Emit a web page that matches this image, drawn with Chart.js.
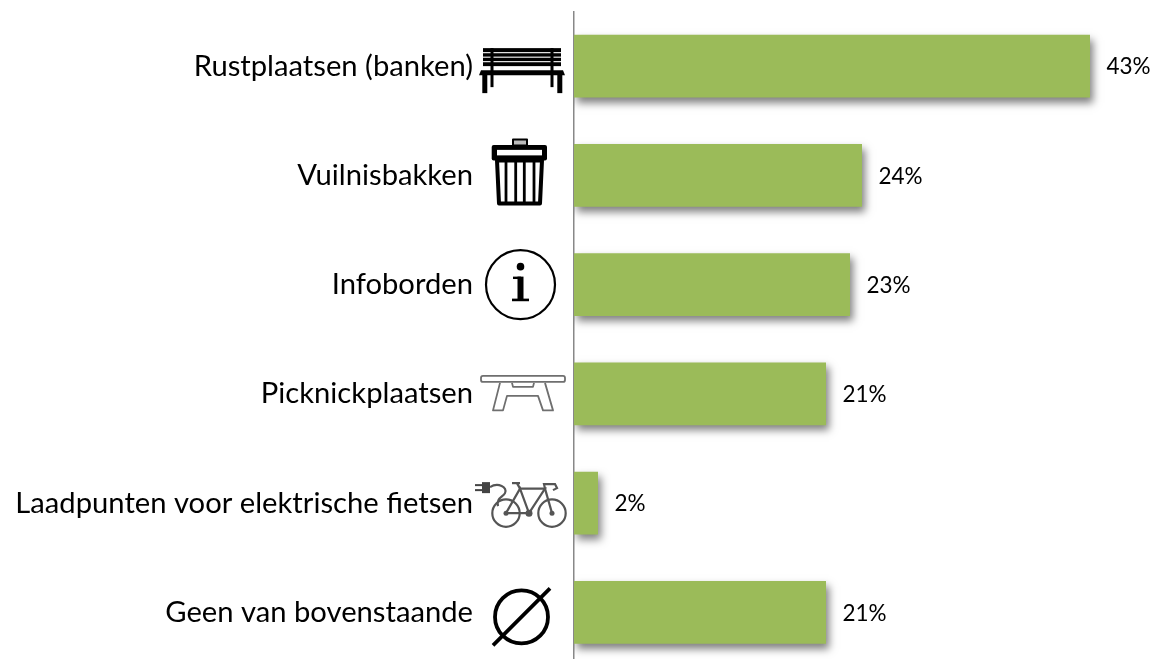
<!DOCTYPE html>
<html><head><meta charset="utf-8">
<style>html,body{margin:0;padding:0;background:#fff;overflow:hidden;width:1157px;height:659px}
#w{width:1157px;height:659px;overflow:hidden;position:relative}</style>
<script src="https://cdn.jsdelivr.net/npm/chart.js@4"></script></head>
<body><div id="w"><canvas id="c" width="1157" height="667"></canvas></div>
<script>
const categories=["Rustplaatsen (banken)","Vuilnisbakken","Infoborden","Picknickplaatsen","Laadpunten voor elektrische fietsen","Geen van bovenstaande"];
const values=[43,24,23,21,2,21];
const valueSuffix="%";
const barColor="#9BBB59";
const FONT="Lato";

function line(c,x1,y1,x2,y2){c.beginPath();c.moveTo(x1,y1);c.lineTo(x2,y2);c.stroke();}
function circ(c,x,y,r,fill){c.beginPath();c.arc(x,y,r,0,Math.PI*2);fill?c.fill():c.stroke();}
function poly(c,pts,close){c.beginPath();pts.forEach((p,i)=>i?c.lineTo(p[0],p[1]):c.moveTo(p[0],p[1]));if(close)c.closePath();c.stroke();}
const icons=[
 c=>{ // bench, origin on the row centre
  c.fillStyle="#000";
  c.fillRect(-40,-18,78,18);
  c.fillStyle="#fff";
  for(const y of [-14,-9.5,-5]) c.fillRect(-40,y,78,1.1);
  c.fillStyle="#000";
  c.fillRect(-32.5,-18,3,39);c.fillRect(27.5,-18,3,39);
  c.beginPath();c.moveTo(-42,4);c.lineTo(40,4);c.lineTo(42,9);c.lineTo(-44,9);c.closePath();c.fill();
  c.fillRect(-40.7,8,5,19);c.fillRect(34.3,8,5,19);
 },
 c=>{ // bin
  c.strokeStyle="#000";c.fillStyle="#000";c.lineJoin="round";
  c.fillStyle="#bbb";c.fillRect(-7,-36,14,6);
  c.lineWidth=2;c.strokeRect(-7,-36,14,6);
  c.fillStyle="#000";c.beginPath();c.roundRect(-28.3,-30.5,55.3,15.5,2);c.fill();
  c.fillStyle="#fff";c.fillRect(-23,-25.5,45,5.5);
  c.lineWidth=4;
  poly(c,[[-23,-15],[-21,28],[20,28],[22,-15]],true);
  c.lineWidth=2.8;
  for(const x of [-14,-4.3,4.3,14]) line(c,x,-14,x,27);
 },
 c=>{ // info
  c.strokeStyle="#000";c.fillStyle="#000";c.lineWidth=2.2;
  circ(c,0.5,0,34.5);
  circ(c,0.5,-18,3.8,true);
  c.fillRect(-2.5,-8,6,24);c.fillRect(-7,-8,8,2.4);c.fillRect(-8,14,17,2.6);
 },
 c=>{ // table
  c.strokeStyle="#6f6f6f";c.lineWidth=1.8;c.lineJoin="round";
  c.beginPath();c.roundRect(-42,-18,84,6,2);c.stroke();
  poly(c,[[-11,-11],[-10,-7],[10,-7],[11,-11]]);
  poly(c,[[-23,-11],[-30,16.5],[-20,16.5],[-16,2],[15,2],[20,16.5],[30,16.5],[22,-11]]);
 },
 c=>{ // bike and plug
  c.strokeStyle="#555";c.fillStyle="#555";c.lineWidth=2.2;
  circ(c,-18,10,13.7);circ(c,28,10,13.7);
  circ(c,-18,10,2.5,true);circ(c,28,10,2.5,true);circ(c,5,10,3.5,true);
  poly(c,[[-18,10],[-4,-14.5],[5,10],[-18,10]]);
  poly(c,[[-4,-14.5],[21,-14.5],[5,10]]);
  poly(c,[[21,-14.5],[28,10]]);
  poly(c,[[-12,-20],[-4,-20]]);poly(c,[[-7,-20],[-4,-14.5]]);
  poly(c,[[21,-14.5],[20,-19],[31,-19],[33,-15],[29,-13]]);
  c.beginPath();c.moveTo(-34,-16);c.bezierCurveTo(-26,-21,-16,-16,-19,-10);c.bezierCurveTo(-21,-6,-28,-5,-26,3);c.stroke();
  c.fillStyle="#444";
  c.fillRect(-42,-21,8,11);
  c.fillRect(-49,-19,7,2);c.fillRect(-49,-14,7,2);
 },
 c=>{ // none
  c.strokeStyle="#000";c.lineWidth=3.8;
  circ(c,-1.5,4.5,26.5);
  line(c,-30,33,27,-24);
 }
];
const iconX=[523,520,520,523,524,523];

const shadowPlugin={id:"shadow",
 beforeDatasetsDraw(ch){const c=ch.ctx;c.save();c.shadowColor="rgba(0,0,0,0.5)";c.shadowBlur=8;c.shadowOffsetX=3;c.shadowOffsetY=5;},
 afterDatasetsDraw(ch){ch.ctx.restore();}};
const extras={id:"extras",afterDraw(ch){
 const c=ch.ctx,y=ch.scales.y,m=ch.getDatasetMeta(0);
 c.save();c.fillStyle="#000";c.font="22.5px "+FONT;c.textAlign="left";c.textBaseline="middle";
 m.data.forEach((b,i)=>c.fillText(values[i]+valueSuffix,b.x+16.5,b.y+1));
 c.restore();
 icons.forEach((d,i)=>{c.save();c.translate(iconX[i],y.getPixelForValue(i));d(c);c.restore();});
}};
new Chart(document.getElementById("c"),{
 type:"bar",
 data:{labels:categories,datasets:[{data:values,backgroundColor:barColor,borderWidth:0,barPercentage:0.575,categoryPercentage:1}]},
 plugins:[shadowPlugin,extras],
 options:{indexAxis:"y",responsive:false,animation:false,
  layout:{padding:{top:11.5,right:7,bottom:0,left:0}},
  plugins:{legend:{display:false},tooltip:{enabled:false}},
  scales:{
   x:{display:false,min:0,max:48},
   y:{afterFit(s){s.width=574;s.paddingTop=0;s.paddingBottom=0;},
      grid:{display:false,drawTicks:false},
      border:{display:true,color:"#888",width:1.5},
      ticks:{color:"#000",padding:101,autoSkip:false,font:{family:FONT,size:29.2}}}
  }}
});
</script></body></html>
